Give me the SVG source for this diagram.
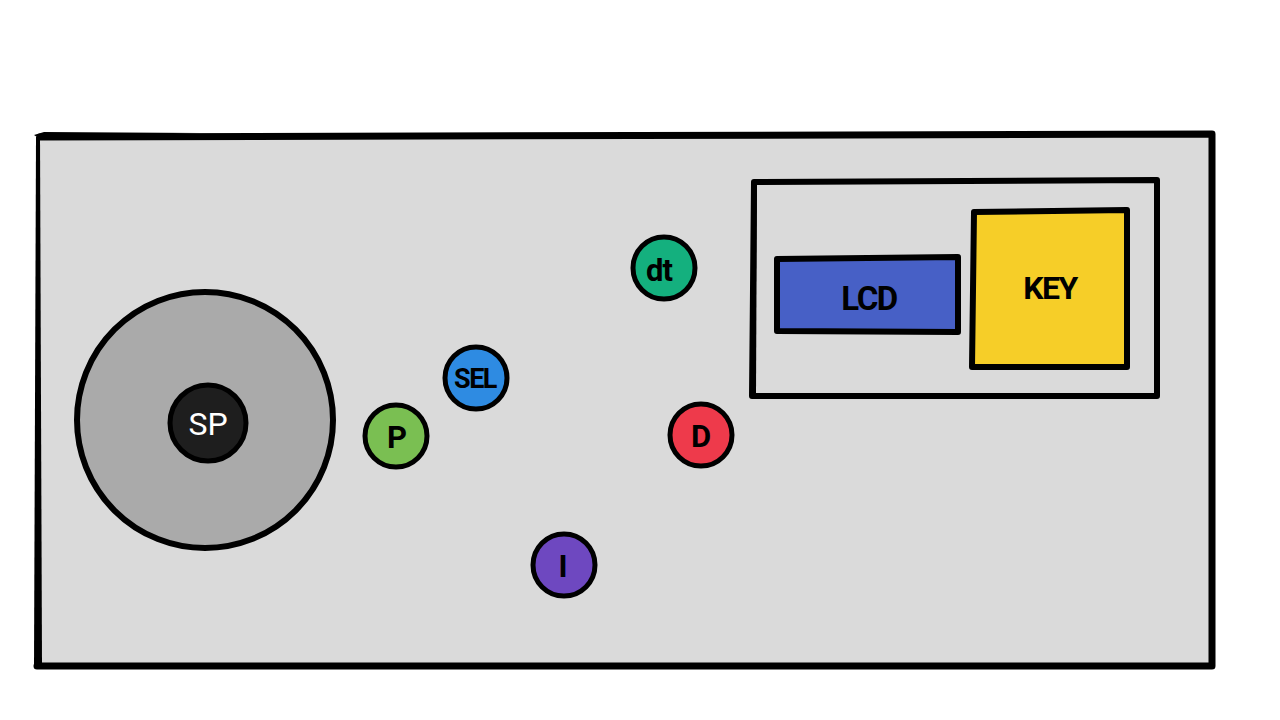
<svg xmlns="http://www.w3.org/2000/svg" width="1280" height="720" viewBox="0 0 1280 720">
<style>
.ln{fill:none;stroke:#000;stroke-linecap:round;stroke-linejoin:round}
.lbl{font-family:Roboto,"Liberation Sans",sans-serif;font-weight:bold;text-anchor:middle;fill:#000}
.btn{stroke:#000;stroke-width:5}
</style>
<rect width="1280" height="720" fill="#fff"/>
<g id="panel">
<path d="M37,137 L1212,134 L1212,666 L37,666 Z" fill="#dadada"/>
<path class="ln" stroke-width="7" d="M40,137 L1212,134 L1212,666 L37,666"/>
<path d="M36,137 L40,136 L42,665 L34,665 Z" fill="#000"/>
<path d="M34,135 L44,132 L200,133 L40,139 Z" fill="#000"/>
</g>
<g id="spindle">
<circle cx="205" cy="420" r="128" fill="#aaa" stroke="#000" stroke-width="6"/>
</g>
<g id="SP">
<circle cx="208" cy="423" r="38" fill="#1e1e1e" stroke="#000" stroke-width="5"/>
<text x="208" y="435" font-family="Roboto,'Liberation Sans',sans-serif" font-size="32" text-anchor="middle" fill="#fff">SP</text>
</g>
<g id="P">
<circle class="btn" cx="396" cy="436" r="31" fill="#7abf52"/>
<text class="lbl" x="397" y="448" font-size="31">P</text>
</g>
<g id="SEL">
<circle class="btn" cx="476" cy="378" r="31" fill="#2e8be2"/>
<text class="lbl" x="475" y="388" font-size="27" letter-spacing="-1.5">SEL</text>
</g>
<g id="dt">
<circle class="btn" cx="664" cy="268" r="31" fill="#14b07e"/>
<text class="lbl" x="659" y="281" font-size="31" letter-spacing="-1">dt</text>
</g>
<g id="D">
<circle class="btn" cx="701" cy="435" r="31" fill="#ee3a4b"/>
<text class="lbl" x="701" y="447" font-size="31">D</text>
</g>
<g id="I">
<circle class="btn" cx="564" cy="565" r="31" fill="#6e48c0"/>
<text class="lbl" x="563" y="577" font-size="31">I</text>
</g>
<g id="display-box">
<path class="ln" stroke-width="6" d="M754,182 L1157,180 L1157,396 L752,396 Z"/>
<path d="M752,182 L757,181 L756,396 L750,396 Z" fill="#000"/>
</g>
<g id="LCD">
<path d="M777,259 L958,257 L958,332 L777,331 Z" fill="#4760c6" stroke="#000" stroke-width="6" stroke-linejoin="round"/>
<text class="lbl" x="869" y="310" font-size="33" letter-spacing="-1.5">LCD</text>
</g>
<g id="KEY">
<path d="M974,212 L1127,210 L1127,367 L972,367 Z" fill="#f6ce28" stroke="#000" stroke-width="6" stroke-linejoin="round"/>
<text class="lbl" x="1050" y="299" font-size="32" letter-spacing="-1.5">KEY</text>
</g>
<g id="connectors"></g>
</svg>
